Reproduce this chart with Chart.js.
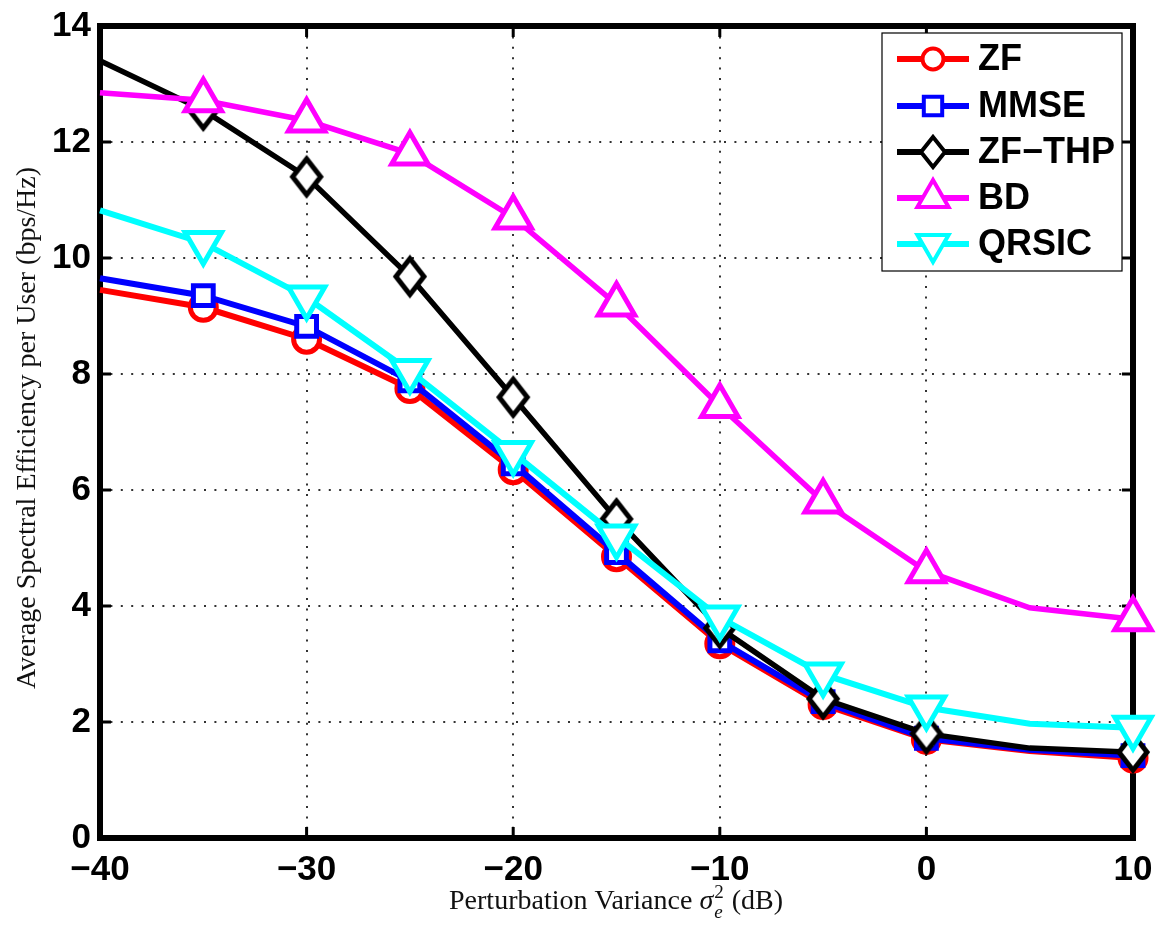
<!DOCTYPE html>
<html>
<head>
<meta charset="utf-8">
<title>Spectral efficiency vs perturbation variance</title>
<script src="https://cdn.jsdelivr.net/npm/chart.js@4/dist/chart.umd.min.js"></script>
<style>
  html, body { margin: 0; padding: 0; background: #fff; }
  #wrap { width: 1160px; height: 926px; position: relative; }
</style>
</head>
<body>
<div id="wrap"><canvas id="seChart"></canvas></div>
<script>
// values (x in dB)
const xValues = [-40, -35, -30, -25, -20, -15, -10, -5, 0, 5, 10];
const zf    = [9.45, 9.15, 8.6, 7.75, 6.35, 4.85, 3.35, 2.3, 1.7, 1.5, 1.38];
const mmse  = [9.65, 9.35, 8.82, 7.88, 6.45, 4.92, 3.4, 2.35, 1.72, 1.52, 1.42];
const zfThp = [13.4, 12.55, 11.4, 9.68, 7.6, 5.5, 3.62, 2.4, 1.8, 1.55, 1.48];
const bd    = [12.85, 12.72, 12.37, 11.8, 10.7, 9.2, 7.45, 5.8, 4.6, 3.97, 3.77];
const qrsic = [10.82, 10.26, 9.32, 8.05, 6.64, 5.2, 3.8, 2.82, 2.25, 1.97, 1.9];
const markerShown = [false, true, true, true, true, true, true, true, true, false, true];

const seriesNames = ['ZF', 'MMSE', 'ZF\u2212THP', 'BD', 'QRSIC'];
const xTicks = [-40, -30, -20, -10, 0, 10];
const yTicks = [0, 2, 4, 6, 8, 10, 12, 14];

const ctx = document.getElementById('seChart').getContext('2d');

// MATLAB's diamond is a bit taller than wide, so draw it as a small image
function makeDiamond(w, h, lw) {
    const cv = document.createElement('canvas');
    cv.width = w + lw * 2;
    cv.height = h + lw * 2;
    const g = cv.getContext('2d');
    const cx = cv.width / 2, cy = cv.height / 2;
    g.beginPath();
    g.moveTo(cx, cy - h / 2);
    g.lineTo(cx + w / 2, cy);
    g.lineTo(cx, cy + h / 2);
    g.lineTo(cx - w / 2, cy);
    g.closePath();
    g.fillStyle = '#fff';
    g.fill();
    g.lineWidth = lw;
    g.lineJoin = 'miter';
    g.strokeStyle = '#000';
    g.stroke();
    return cv;
}
const diamondBig = makeDiamond(28, 36, 5);
const diamondSmall = makeDiamond(24, 30, 4);

function makeSet(i, vals, color, style, radius, rot) {
    return {
        label: seriesNames[i],
        data: xValues.map((x, k) => ({ x: x, y: vals[k] })),
        borderColor: color,
        borderWidth: 6,
        pointStyle: style,
        pointRotation: rot || 0,
        pointRadius: markerShown.map(m => m ? radius : 0),
        pointHoverRadius: markerShown.map(m => m ? radius : 0),
        pointBorderColor: color,
        pointBackgroundColor: '#fff',
        pointBorderWidth: 5,
        tension: 0,
        clip: false,
        order: 4 - i
    };
}

const datasets = [
    makeSet(0, zf, '#ff0000', 'circle', 13),
    makeSet(1, mmse, '#0000ff', 'rect', 14),
    makeSet(2, zfThp, '#000000', diamondBig, 14),
    makeSet(3, bd, '#ff00ff', 'triangle', 21),
    makeSet(4, qrsic, '#00ffff', 'triangle', 21, 180)
];
datasets[2].borderWidth = 5.5;
datasets[3].borderWidth = 5.5;

const legendRadius = [10.5, 13, 12, 18, 18];

const tickFont = { family: "'Liberation Sans', Arial, sans-serif", size: 35, weight: 'bold' };

// axes box, inward ticks, titles and the in-plot legend
const matlabLook = {
    id: 'matlabLook',
    beforeDatasetsDraw(chart) {
        const a = chart.chartArea, c = chart.ctx;
        const xs = chart.scales.x, ys = chart.scales.y;
        c.save();
        c.strokeStyle = '#000';
        c.lineWidth = 3;
        c.beginPath();
        xTicks.forEach(v => {
            const px = xs.getPixelForValue(v);
            c.moveTo(px, a.bottom); c.lineTo(px, a.bottom - 11);
            c.moveTo(px, a.top); c.lineTo(px, a.top + 11);
        });
        yTicks.forEach(v => {
            const py = ys.getPixelForValue(v);
            c.moveTo(a.left, py); c.lineTo(a.left + 11, py);
            c.moveTo(a.right, py); c.lineTo(a.right - 11, py);
        });
        c.stroke();
        c.lineWidth = 6;
        c.strokeRect(a.left, a.top, a.right - a.left, a.bottom - a.top);
        c.restore();
    },
    afterDraw(chart) {
        const c = chart.ctx, a = chart.chartArea;
        c.save();
        c.fillStyle = '#111';
        // y title
        c.font = "28px 'Liberation Serif', 'Times New Roman', serif";
        c.textAlign = 'center';
        c.textBaseline = 'middle';
        c.translate(28, 428);
        c.rotate(-Math.PI / 2);
        c.fillText('Average Spectral Efficiency per User (bps/Hz)', 0, 0);
        c.setTransform(1, 0, 0, 1, 0, 0);

        // x title with sigma_e^2
        const serif = "'Liberation Serif', 'Times New Roman', serif";
        const parts = [
            { t: 'Perturbation Variance ', f: '28px ' + serif, dy: 0 },
            { t: '\u03c3', f: 'italic 28px ' + serif, dy: 0 },
            { t: '2', f: '19px ' + serif, dy: -11, stack: true },
            { t: 'e', f: 'italic 19px ' + serif, dy: 9 },
            { t: ' (dB)', f: '28px ' + serif, dy: 0 }
        ];
        let total = 0;
        parts.forEach(p => {
            c.font = p.f;
            p.w = c.measureText(p.t).width;
            if (!p.stack) total += p.w;
        });
        total += 4;
        let x = (a.left + a.right) / 2 - total / 2;
        const base = 909;
        c.textAlign = 'left';
        c.textBaseline = 'alphabetic';
        parts.forEach(p => {
            c.font = p.f;
            c.fillText(p.t, x + (p.stack || p.t === 'e' ? 1 : 0), base + p.dy);
            if (!p.stack) x += p.w + (p.t === 'e' ? 3 : 0);
        });

        // legend
        const bx = 882, by = 33, bw = 240, bh = 238;
        c.fillStyle = '#fff';
        c.fillRect(bx, by, bw, bh);
        c.strokeStyle = '#000';
        c.lineWidth = 1.2;
        c.strokeRect(bx, by, bw, bh);
        const rowY = [59, 106, 152, 198, 244];
        chart.data.datasets.forEach((ds, i) => {
            const y = rowY[i];
            c.strokeStyle = ds.borderColor;
            c.lineWidth = 6;
            c.beginPath();
            c.moveTo(897, y); c.lineTo(969, y);
            c.stroke();
            c.fillStyle = '#fff';
            c.lineWidth = 4;
            const style = i === 2 ? diamondSmall : ds.pointStyle;
            Chart.helpers.drawPoint(c, { pointStyle: style, radius: legendRadius[i], rotation: ds.pointRotation, borderWidth: 4 }, 933, y);
            c.fillStyle = '#000';
            c.font = "bold 36px 'Liberation Sans', Arial, sans-serif";
            c.textAlign = 'left';
            c.textBaseline = 'middle';
            c.fillText(ds.label, 978, y + 1);
        });
        c.restore();
    }
};

new Chart(ctx, {
    type: 'line',
    data: { datasets: datasets },
    plugins: [matlabLook],
    options: {
        responsive: true,
        maintainAspectRatio: false,
        animation: false,
        events: [],
        layout: { padding: { left: 0, top: 22, right: 27, bottom: 0 } },
        plugins: {
            legend: { display: false },
            tooltip: { enabled: false }
        },
        scales: {
            x: {
                type: 'linear',
                min: -40,
                max: 10,
                afterBuildTicks: s => { s.ticks = xTicks.map(v => ({ value: v })); },
                afterFit: s => { s.height = 88; s.paddingLeft = 0; s.paddingRight = 0; },
                grid: { color: '#333', lineWidth: 2, drawTicks: false },
                border: { display: false, dash: [2, 8.4] },
                ticks: {
                    padding: 11,
                    color: '#000',
                    font: tickFont,
                    maxRotation: 0,
                    callback: v => v < 0 ? '\u2212' + Math.abs(v) : String(v)
                }
            },
            y: {
                min: 0,
                max: 14,
                afterBuildTicks: s => { s.ticks = yTicks.map(v => ({ value: v })); },
                afterFit: s => { s.width = 100; s.paddingTop = 0; s.paddingBottom = 0; },
                grid: { color: '#333', lineWidth: 2, drawTicks: false },
                border: { display: false, dash: [2, 8.4] },
                ticks: {
                    padding: 9,
                    color: '#000',
                    font: tickFont
                }
            }
        }
    }
});
</script>
</body>
</html>
